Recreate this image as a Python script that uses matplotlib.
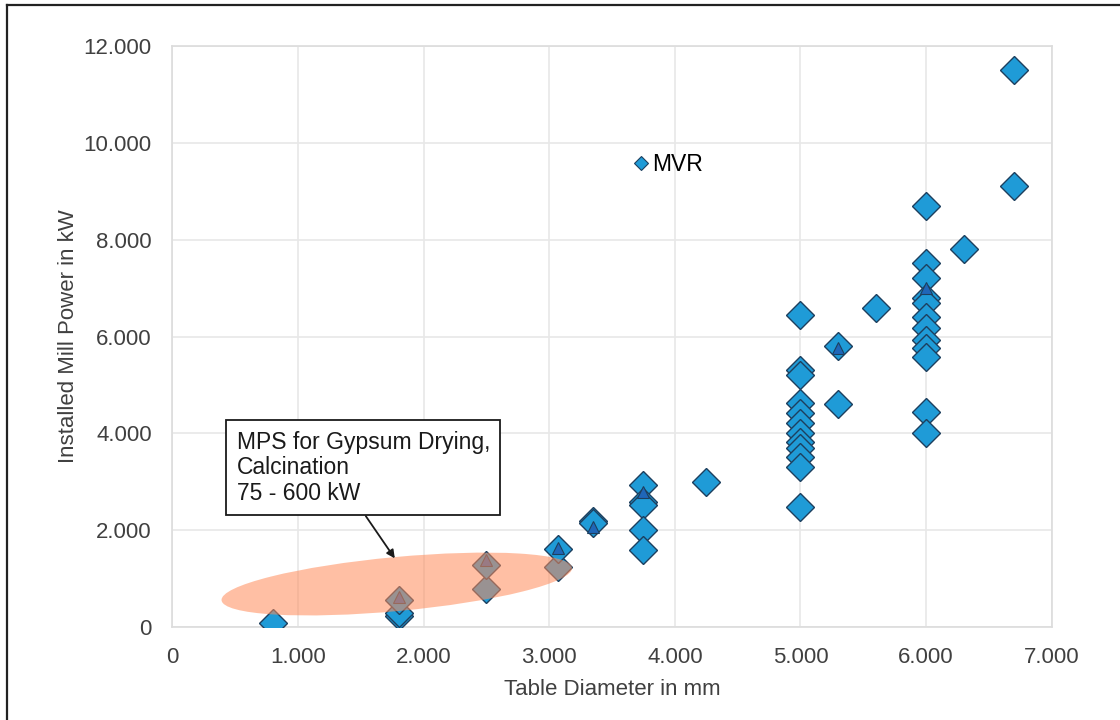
import numpy as np
import matplotlib.pyplot as plt
from matplotlib.patches import Ellipse
from matplotlib.lines import Line2D
from matplotlib.ticker import FuncFormatter, MultipleLocator
import matplotlib.transforms as mtransforms

plt.rcParams['font.family'] = ['Liberation Sans', 'DejaVu Sans']

# diamonds: table diameter (mm) vs installed power (kW)
mvr_d = [800,
         1800, 1800, 1800,
         2500, 2500,
         3070, 3070,
         3350, 3350,
         3750, 3750, 3750, 3750, 3750,
         4250,
         5000, 5000, 5000, 5000, 5000, 5000, 5000, 5000, 5000, 5000, 5000, 5000,
         5300, 5300,
         5600,
         6000, 6000, 6000, 6000, 6000, 6000, 6000, 6000, 6000, 6000, 6000, 6000,
         6300,
         6700, 6700]
mvr_p = [80,
         230, 300, 560,
         780, 1280,
         1240, 1620,
         2200, 2150,
         2930, 2580, 2520, 2000, 1590,
         3000,
         6440, 5300, 5200, 4620, 4420, 4210, 4000, 3820, 3690, 3510, 3300, 2480,
         5800, 4600,
         6600,
         8690, 7510, 7200, 6790, 6690, 6400, 6170, 5920, 5760, 5580, 4440, 4000,
         7800,
         11500, 9120]

# small triangles sitting inside some diamonds
tri_d = [1800, 2500, 3070, 3350, 3750, 5300, 6000]
tri_p = [620, 1380, 1630, 2070, 2790, 5760, 7000]

# gypsum range ellipse (centre in data units)
gyp_center = (1786, 890)

fig = plt.figure(figsize=(11.2, 7.2), dpi=100)
ax = fig.add_axes([0.154, 0.129, 0.785, 0.807])

ax.plot(mvr_d, mvr_p, ls='', marker='D', ms=14, mfc='#1f9bd7', mec='#1d3f5e', mew=1.0, zorder=3)
ax.plot(tri_d, tri_p, ls='', marker='^', ms=9, mfc='#1f66b8', mec='#1d3f5e', mew=0.8, zorder=4)

# ellipse sized in inches, anchored at a data point
trans = fig.dpi_scale_trans + mtransforms.ScaledTranslation(gyp_center[0], gyp_center[1], ax.transData)
ell = Ellipse((0, 0), width=3.52, height=0.54, angle=5.3, transform=trans,
              facecolor='#ff8c5a', edgecolor='none', alpha=0.55, zorder=5)
ax.add_patch(ell)

ax.annotate('MPS for Gypsum Drying,\nCalcination\n75 - 600 kW',
            xy=(1770, 1420), xycoords='data',
            xytext=(0.073, 0.338), textcoords='axes fraction',
            ha='left', va='top', fontsize=16.5, color='#1a1a1a', linespacing=1.15,
            bbox=dict(boxstyle='square,pad=0.45', fc='white', ec='#1a1a1a', lw=1.3),
            arrowprops=dict(arrowstyle='-|>', color='#1a1a1a', lw=1.3, relpos=(0.48, 0),
                            shrinkA=0, shrinkB=0, mutation_scale=12),
            zorder=6)

ax.set_xlim(0, 7000)
ax.set_ylim(0, 12000)
ax.xaxis.set_major_locator(MultipleLocator(1000))
ax.yaxis.set_major_locator(MultipleLocator(2000))
fmt = FuncFormatter(lambda v, p: f"{v:,.0f}".replace(",", "."))
ax.xaxis.set_major_formatter(fmt)
ax.yaxis.set_major_formatter(fmt)
ax.tick_params(axis='both', length=0, labelsize=16, colors='#404040')
ax.tick_params(axis='x', pad=14)
ax.tick_params(axis='y', pad=15)
ax.grid(True, color='#e8e8e8', lw=1.2)
ax.set_axisbelow(True)
for s in ax.spines.values():
    s.set_color('#dcdcdc')
    s.set_linewidth(1.2)

ax.set_xlabel('Table Diameter in mm', fontsize=16, color='#404040', labelpad=8)
ax.set_ylabel('Installed Mill Power in kW', fontsize=16, color='#404040', labelpad=3)

handle = Line2D([], [], ls='', marker='D', ms=7, mfc='#1f9bd7', mec='#1d3f5e', mew=0.8)
ax.legend([handle], ['MVR'], loc='center left', bbox_to_anchor=(0.522, 0.797),
          frameon=False, fontsize=16.5, handlelength=0.8, handletextpad=0.1,
          borderpad=0, borderaxespad=0)

# outer frame lines (left and top)
fig.add_artist(Line2D([7 / 1120, 7 / 1120], [0, 1 - 5 / 720], transform=fig.transFigure, color='#222222', lw=1.6))
fig.add_artist(Line2D([7 / 1120, 1], [1 - 5 / 720, 1 - 5 / 720], transform=fig.transFigure, color='#222222', lw=1.6))

fig.savefig('out.png', dpi=100)
